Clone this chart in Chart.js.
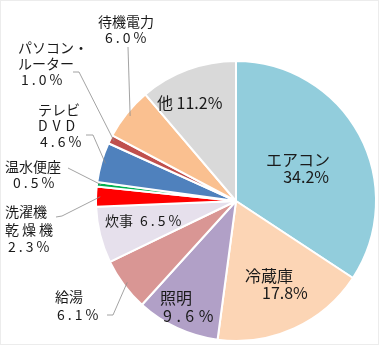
<!DOCTYPE html>
<html><head><meta charset="utf-8">
<script src="https://cdn.jsdelivr.net/npm/chart.js@4"></script>
<style>html,body{margin:0;padding:0;background:#fff;}canvas{display:block;}</style>
</head><body>
<canvas id="c" width="381" height="346"></canvas>
<script>
// ---- data ----
const categories = ["エアコン","冷蔵庫","照明","給湯","炊事","洗濯機・乾燥機","温水便座","テレビ・DVD","パソコン・ルーター","待機電力","他"];
const values = [34.2, 17.8, 9.6, 6.1, 6.5, 2.3, 0.5, 4.6, 1.0, 6.0, 11.2];
const colors = ["#92CDDC","#FCD5B5","#B1A0C7","#D99694","#E6E0EC","#FF0000","#00B050","#4F81BD","#C0504D","#FAC090","#D9D9D9"];
const percentText = values.map(v => v.toFixed(1) + "%");

// ---- label layout (positions only) ----
const FONT = "'Noto Sans CJK JP','Noto Sans',sans-serif";
// each: category index, lines [text, x, y, size, align, spacing], leader path start points (end computed from arc)
const labelLayout = [
  {i:9, lines:[[categories[9],126,22,14,"center",0],[percentText[9],105,38,14,"left",3]], path:[[128,47]]},
  {i:8, lines:[["パソコン・",18,48,14,"left",0],["ルーター",18,64,14,"left",0],[percentText[8],21,80,14,"left",3]], path:[[73,72],[79,72]]},
  {i:7, lines:[["テレビ",38,110,14,"left",0],["DVD",38,126,14,"left",5],[percentText[7],40,142,14,"left",3]], path:[[86,135],[93,135]]},
  {i:6, lines:[[categories[6],5,167,14,"left",0],[percentText[6],13,183,14,"left",3]], path:[[68,168]]},
  {i:5, lines:[["洗濯機",5,212,14,"left",0],["乾燥機",5,230,14,"left",3],[percentText[5],8,247,14,"left",3]], path:[[56,217],[62,216]]},
  {i:3, lines:[[categories[3],55,297,14,"left",0],[percentText[3],57,315,14,"left",3]], path:[[107,315],[113,315]]},
  {i:10, lines:[[categories[10] + " " + percentText[10],157,103,16,"left",0]]},
  {i:0, lines:[[categories[0],330,160,16,"right",0],[percentText[0],329,177,16,"right",0]]},
  {i:1, lines:[[categories[1],245,276,16,"left",0],[percentText[1],262,293,16,"left",0]]},
  {i:2, lines:[[categories[2],160,298,16,"left",0],[percentText[2],163,316,16,"left",4.5]]},
  {i:4, lines:[[categories[4],105,221,14,"left",0],[percentText[4],140,221,14,"left",3]]}
];

const labelPlugin = {
  id: "labels",
  afterDraw(chart) {
    const ctx = chart.ctx;
    const meta = chart.getDatasetMeta(0);
    ctx.save();
    // leader lines
    ctx.strokeStyle = "#8c8c8c";
    ctx.lineWidth = 0.8;
    labelLayout.forEach(l => {
      if (!l.path) return;
      const a = meta.data[l.i];
      const p = a.getProps(["x","y","startAngle","endAngle","outerRadius"], true);
      const mid = (p.startAngle + p.endAngle) / 2;
      const r = p.outerRadius * 0.97;
      const ex = p.x + Math.cos(mid) * r, ey = p.y + Math.sin(mid) * r;
      ctx.beginPath();
      ctx.moveTo(l.path[0][0], l.path[0][1]);
      for (let k = 1; k < l.path.length; k++) ctx.lineTo(l.path[k][0], l.path[k][1]);
      ctx.lineTo(ex, ey);
      ctx.stroke();
    });
    // texts
    ctx.fillStyle = "#1a1a1a";
    ctx.textBaseline = "middle";
    labelLayout.forEach(l => {
      l.lines.forEach(([t, x, y, size, align, sp]) => {
        ctx.font = size + "px " + FONT;
        ctx.letterSpacing = sp + "px";
        let xx = x;
        if (align === "center") { ctx.textAlign = "left"; xx = x - ctx.measureText(t).width / 2; }
        else if (align === "right") { ctx.textAlign = "left"; xx = x - ctx.measureText(t).width + sp; }
        else ctx.textAlign = "left";
        ctx.fillText(t, xx, y);
      });
    });
    ctx.letterSpacing = "0px";
    // faint frame
    ctx.strokeStyle = "#ececec";
    ctx.lineWidth = 1;
    ctx.strokeRect(0.5, 0.5, 378, 344);
    ctx.restore();
  }
};

new Chart(document.getElementById("c"), {
  type: "pie",
  data: {
    labels: categories,
    datasets: [{ data: values, backgroundColor: colors, borderColor: "#ffffff", borderWidth: 2 }]
  },
  options: {
    responsive: false,
    animation: false,
    layout: { padding: { top: 60, bottom: 4, left: 95, right: 4 } },
    plugins: { legend: { display: false }, tooltip: { enabled: false } }
  },
  plugins: [labelPlugin]
});
</script>
</body></html>
